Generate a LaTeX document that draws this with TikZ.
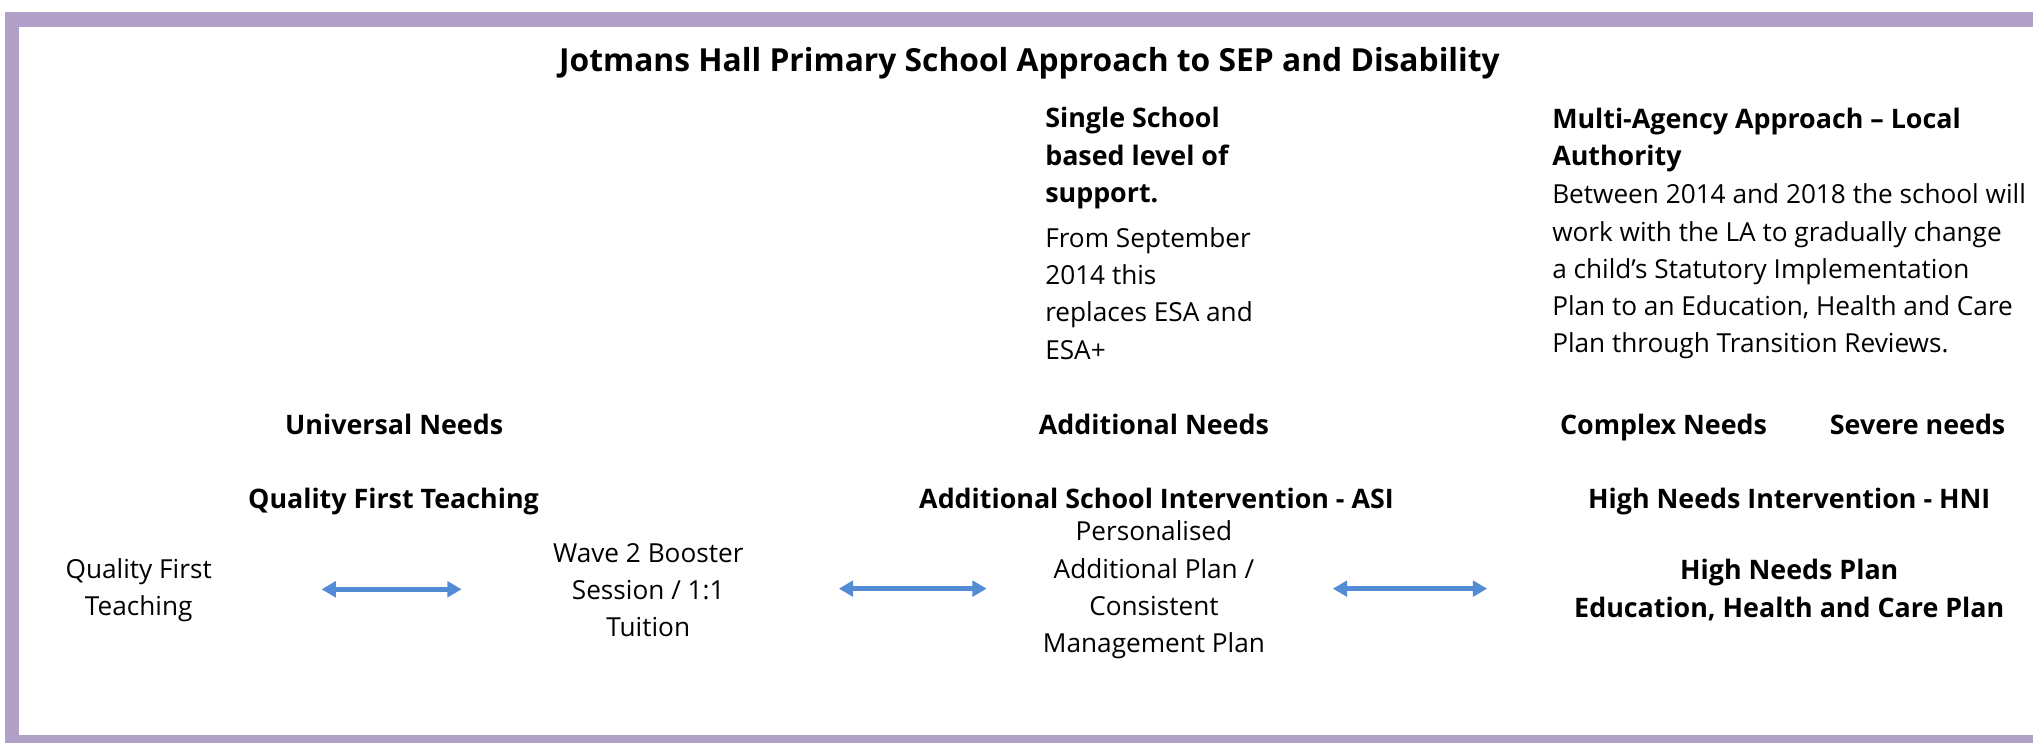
\documentclass[tikz,border=0pt]{standalone}
\usepackage{fontspec}
\setmainfont{Open Sans}
\usetikzlibrary{arrows.meta}
\definecolor{framepurple}{HTML}{B1A0C7}
\definecolor{arrowblue}{HTML}{538CD4}
\begin{document}
\begin{tikzpicture}[x=1pt,y=-1pt,
  body/.style={font=\fontsize{20.2}{28.7}\selectfont, inner sep=0pt},
  bodyb/.style={font=\fontsize{20.7}{28.7}\selectfont\bfseries, inner sep=0pt},
  head/.style={bodyb, anchor=base},
  titlef/.style={font=\fontsize{24.5}{30}\selectfont\bfseries, inner sep=0pt},
  dbl/.style={draw=arrowblue, line width=3.6pt,
    {Triangle[length=11pt,width=12pt]}-{Triangle[length=11pt,width=12pt]}}
]
\useasboundingbox (0,0) rectangle (1568,573);
\begin{scope}
  \clip (0,0) rectangle (1568,573);
  \draw[framepurple, line width=11pt] (9.5,15) rectangle (1640,572);
\end{scope}

\node[titlef] (title) at (794,49) {Jotmans Hall Primary School Approach to SEP and Disability};

% top explanatory blocks (base anchor = baseline of the last line)
\node[bodyb, anchor=base west, align=left] (ssb) at (806,156) {Single School\\based level of\\support.};
\node[body, anchor=base west, align=left] (ssr) at (806,277) {From September\\2014 this\\replaces ESA and\\ESA+};
\node[bodyb, anchor=base west, align=left] (mab) at (1197,128) {Multi-Agency Approach – Local\\Authority};
\node[body, anchor=base west, align=left] (mar) at (1197,272) {Between 2014 and 2018 the school will\\work with the LA to gradually change\\a child’s Statutory Implementation\\Plan to an Education, Health and Care\\Plan through Transition Reviews.};

% need headings
\node[head] (univ) at (304,335) {Universal Needs};
\node[head] (addn) at (890,335) {Additional Needs};
\node[head] (comp) at (1283,335) {Complex Needs};
\node[head] (sev) at (1479,335) {Severe needs};

\node[head] (qftb) at (303.5,392) {Quality First Teaching};
\node[head] (asi) at (892,392) {Additional School Intervention - ASI};
\node[head] (hni) at (1380,392) {High Needs Intervention - HNI};

% row of provisions
\node[body, align=center] (qft) at (107,455) {Quality First\\Teaching};
\node[body, align=center] (wave) at (500,455) {Wave 2 Booster\\Session / 1:1\\Tuition};
\node[body, align=center] (pap) at (890,455) {Personalised\\Additional Plan /\\Consistent\\Management Plan};
\node[bodyb, align=center] (hnp) at (1380,455) {High Needs Plan\\Education, Health and Care Plan};

% arrows
\coordinate (a1s) at (248,454.5); \coordinate (a1e) at (356,454.5);
\coordinate (a2s) at (647,454); \coordinate (a2e) at (761,454);
\coordinate (a3s) at (1028,454); \coordinate (a3e) at (1147,454);
\draw[dbl] (a1s) -- (a1e);
\draw[dbl] (a2s) -- (a2e);
\draw[dbl] (a3s) -- (a3e);
\end{tikzpicture}
\end{document}
